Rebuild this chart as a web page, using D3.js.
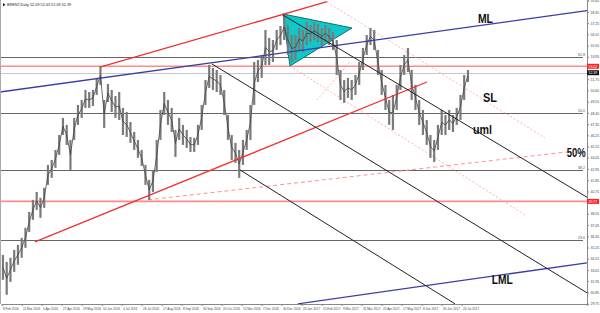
<!DOCTYPE html>
<html>
<head>
<meta charset="utf-8">
<script src="https://cdn.jsdelivr.net/npm/d3@7"></script>
<style>
  body { margin: 0; background: #fff; }
  svg { display: block; font-family: "Liberation Sans", Arial, sans-serif; }
</style>
</head>
<body>
<div id="chart"></div>
<script>
var width = 600, height = 313;
var plotRight = 587, plotBottom = 304;

// 3-bar groups (Feb 2016 - Jul 2017)
var groupHigh = [34.53,33.84,34.24,35.02,35.51,36.20,37.18,38.74,39.92,40.70,40.12,41.10,43.35,43.84,44.82,46.29,47.96,47.27,45.80,47.96,
  49.23,49.72,50.70,50.50,50.70,51.88,53.05,49.72,51.29,50.70,50.11,50.50,48.94,48.54,47.56,46.58,45.80,44.82,43.35,41.88,
  42.86,45.80,48.74,50.50,49.72,48.94,46.78,47.96,47.27,46.78,46.09,46.00,47.27,49.23,51.68,53.15,52.86,52.66,52.17,50.70,
  48.25,46.29,45.51,44.82,45.80,46.78,49.23,53.44,53.64,54.13,56.58,55.80,55.60,56.58,56.97,58.15,57.07,56.09,56.09,56.78,
  56.58,57.36,57.07,57.36,57.17,56.78,57.07,56.78,56.38,55.60,52.66,51.68,51.88,51.68,52.17,53.44,54.82,56.09,56.78,56.58,
  54.62,52.66,51.19,49.72,50.21,51.19,53.15,54.13,54.82,52.66,51.19,49.72,48.74,47.76,46.29,45.80,47.27,48.74,48.25,48.74,
  48.25,48.94,50.21,52.17,52.66];
var groupLow = [32.08,30.61,31.88,32.86,33.55,34.24,35.22,36.78,37.96,38.94,38.16,39.14,41.39,42.08,43.06,44.33,46.29,45.31,42.86,45.80,
  47.27,47.96,48.94,48.94,49.13,50.21,51.19,46.98,49.52,48.54,47.96,47.76,46.29,46.09,45.51,44.82,44.04,43.25,41.39,39.92,
  40.70,42.66,45.80,48.25,47.27,46.58,44.13,45.80,45.31,45.02,44.62,44.62,45.31,46.78,49.23,50.90,50.70,50.50,50.21,48.25,
  45.80,43.84,43.55,42.08,43.35,44.82,45.80,49.23,51.48,51.88,53.15,53.15,53.44,54.62,55.11,55.60,54.13,53.44,53.64,54.62,
  54.42,55.11,55.40,55.60,55.40,55.11,55.40,55.11,54.62,52.17,49.72,49.43,49.92,49.72,50.21,51.19,52.66,54.13,55.11,54.62,
  52.17,50.21,48.74,47.27,46.78,48.74,50.70,52.17,52.46,49.72,48.74,47.27,46.29,45.31,44.04,43.64,44.82,46.29,46.29,46.78,
  46.58,47.27,47.76,49.72,51.48];

var dateLabels = ["8 Feb 2016","11 Mar 2016","5 Apr 2016","27 Apr 2016","19 May 2016","10 Jun 2016","4 Jul 2016",
  "26 Jul 2016","17 Aug 2016","8 Sep 2016","30 Sep 2016","24 Oct 2016","15 Nov 2016","7 Dec 2016","30 Dec 2016",
  "24 Jan 2017","15 Feb 2017","9 Mar 2017","31 Mar 2017","25 Apr 2017","17 May 2017","8 Jun 2017","30 Jun 2017","24 Jul 2017"];
var priceTicks = [59.45,58.35,57.25,56.15,55.05,53.95,52.85,51.75,50.65,49.55,48.45,47.35,46.25,45.15,44.05,42.95,
  41.85,40.75,39.65,38.55,37.45,36.35,35.25,34.15,33.05,31.95,30.85,29.75];

// levels
var fibLevels = [{name:"61.8", price:53.96},{name:"50.0", price:48.45},{name:"38.2", price:42.86},{name:"23.6", price:35.95}];
var redLevels = [53.02, 39.77];
var lastPrice = 52.39;

// trend lines as [barIndex, price] pairs
var blueLines = [[[-1.4,50.50],[468.2,58.47]], [[237.0,29.73],[468.2,33.75]]];
var redLines = [[[78.6,52.95],[260.2,59.35]], [[26.6,35.80],[340.2,51.48]]];
var blackLines = [[[168.2,53.25],[468.2,30.81]], [[225.0,58.05],[469.0,40.12]], [[190.6,42.86],[362.6,29.73]]];
var dottedLines = [[[260.2,59.32],[434.6,45.99]], [[230.6,53.05],[418.6,38.45]], [[252.2,49.72],[278.6,53.44]]];
var dashedLines = [[[117.0,39.92],[452.2,44.62]]];
var triangle = [[225.0,58.15],[230.6,53.05],[280.2,56.78]];
var labels = [{t:"ML", i:381, p:57.3, w:15},{t:"SL", i:385, p:49.5, w:14},{t:"uml", i:377, p:46.4, w:19},
  {t:"50%", i:452, p:44.1, w:19},{t:"LML", i:392, p:31.7, w:21}];

var x = d3.scaleLinear().domain([0, 468]).range([1.7, 586.7]);
var y = d3.scaleLinear().domain([29.71, 59.52]).range([plotBottom, 0]);

var svg = d3.select('#chart').append('svg')
  .attr('width', width).attr('height', height);

var plot = svg.append('g');
svg.append('defs').append('clipPath').attr('id','clip')
  .append('rect').attr('x',0).attr('y',0).attr('width',plotRight).attr('height',plotBottom);
plot.attr('clip-path','url(#clip)');

function drawLines(data, color, w, dash){
  plot.selectAll(null).data(data).enter().append('line')
    .attr('x1', function(d){return x(d[0][0]);})
    .attr('y1', function(d){return y(d[0][1]);})
    .attr('x2', function(d){return x(d[1][0]);})
    .attr('y2', function(d){return y(d[1][1]);})
    .attr('stroke', color).attr('stroke-width', w)
    .attr('stroke-dasharray', dash || null);
}

// horizontal levels
plot.selectAll('.fib').data(fibLevels).enter().append('line')
  .attr('x1', 0).attr('x2', 583)
  .attr('y1', function(d){return Math.round(y(d.price))+0.5;})
  .attr('y2', function(d){return Math.round(y(d.price))+0.5;})
  .attr('stroke', '#666').attr('stroke-width', 1);
plot.selectAll('.red').data(redLevels).enter().append('line')
  .attr('x1', 0).attr('x2', plotRight)
  .attr('y1', function(d){return y(d);}).attr('y2', function(d){return y(d);})
  .attr('stroke', '#ff8a8a').attr('stroke-width', 1.6);
plot.append('line').attr('x1',0).attr('x2',plotRight)
  .attr('y1', Math.round(y(lastPrice))+0.5).attr('y2', Math.round(y(lastPrice))+0.5)
  .attr('stroke','#c8c8c8').attr('stroke-width',1);

drawLines(dashedLines, '#ff9090', 1, '4,3');
drawLines(dottedLines, '#ff9a9a', 0.8, '2,2');

// triangle
plot.append('polygon')
  .attr('points', triangle.map(function(d){return x(d[0])+','+y(d[1]);}).join(' '))
  .attr('fill', '#10c8c8').attr('stroke', '#0a6f6f').attr('stroke-width', 1);

// price bars
var groups = groupHigh.map(function(h, g){return {g:g, hi:h, lo:groupLow[g]};});
plot.selectAll('.bar').data(groups).enter().append('line')
  .attr('x1', function(d){return x(3*d.g+1);}).attr('x2', function(d){return x(3*d.g+1);})
  .attr('y1', function(d){return y(d.hi);}).attr('y2', function(d){return y(d.lo);})
  .attr('stroke', '#7a7a7a').attr('stroke-width', 2.2);
plot.append('path').datum(groups)
  .attr('d', d3.line().x(function(d){return x(3*d.g+1);}).y(function(d){return y((d.hi+d.lo)/2);}))
  .attr('fill','none').attr('stroke','#444').attr('stroke-width',0.8);

drawLines(blueLines, '#3a3aa8', 1.3);
drawLines(redLines, '#f03030', 1.3);
drawLines(blackLines, '#222', 1);

svg.selectAll('.lab').data(labels).enter().append('text')
  .attr('x', function(d){return x(d.i);}).attr('y', function(d){return y(d.p);})
  .attr('font-size', 12).attr('font-weight', 'bold').attr('fill', '#111')
  .attr('textLength', function(d){return d.w;}).attr('lengthAdjust', 'spacingAndGlyphs')
  .text(function(d){return d.t;});

// fib labels
svg.selectAll('.fibl').data(fibLevels).enter().append('text')
  .attr('x', 585).attr('y', function(d){return y(d.price)-1;})
  .attr('text-anchor','end').attr('font-size', 3.6).attr('fill','#555')
  .text(function(d){return d.name;});

// axes
var boxPrices = redLevels.concat([lastPrice]);
var yAxis = d3.axisRight(y).tickValues(priceTicks).tickFormat(d3.format('.2f')).tickSize(2);
var ya = svg.append('g').attr('transform','translate('+plotRight+',0)').call(yAxis);
ya.select('.domain').attr('stroke','#888');
ya.selectAll('text').attr('font-size',3.5).attr('fill','#444').attr('x',3.5);
ya.selectAll('.tick line').attr('stroke','#888');
// the price boxes cover the tick labels they sit on
ya.selectAll('.tick').filter(function(d){
  return boxPrices.some(function(p){return Math.abs(y(p)-y(d)) < 5;});
}).select('text').remove();

var xAxis = d3.axisBottom(x).tickValues(dateLabels.map(function(d,k){return 16*k;}))
  .tickFormat(function(d){return dateLabels[d/16];}).tickSize(2);
var xa = svg.append('g').attr('transform','translate(0,'+plotBottom+')').call(xAxis);
xa.select('.domain').attr('stroke','#888');
xa.selectAll('text').attr('font-size',3.1).attr('fill','#444').attr('text-anchor','start').attr('dx',0.8).attr('y',3.5);
xa.selectAll('.tick line').attr('stroke','#888');

svg.append('line').attr('x1',0.5).attr('x2',0.5).attr('y1',0).attr('y2',plotBottom).attr('stroke','#aaa');

// price boxes on the axis
var boxes = redLevels.map(function(p){return {p:p, fill:'#ff2020'};}).concat([{p:lastPrice, fill:'#111'}]);
var bx = svg.selectAll('.box').data(boxes).enter().append('g')
  .attr('transform', function(d){return 'translate('+plotRight+','+y(d.p)+')';});
bx.append('rect').attr('x',0).attr('y',-2.5).attr('width',12).attr('height',5).attr('fill',function(d){return d.fill;});
bx.append('text').attr('x',1.5).attr('y',1.3).attr('font-size',3.5).attr('fill','#fff')
  .text(function(d){return d3.format('.2f')(d.p);});

// header
svg.append('path').attr('d','M3,3 L5.5,4.8 L3,6.6 Z').attr('fill','#222');
svg.append('text').attr('x',7).attr('y',6).attr('font-size',3.8).attr('fill','#222')
  .text('BRENT,Daily  52.09 52.43 52.09 52.39');
</script>
</body>
</html>
